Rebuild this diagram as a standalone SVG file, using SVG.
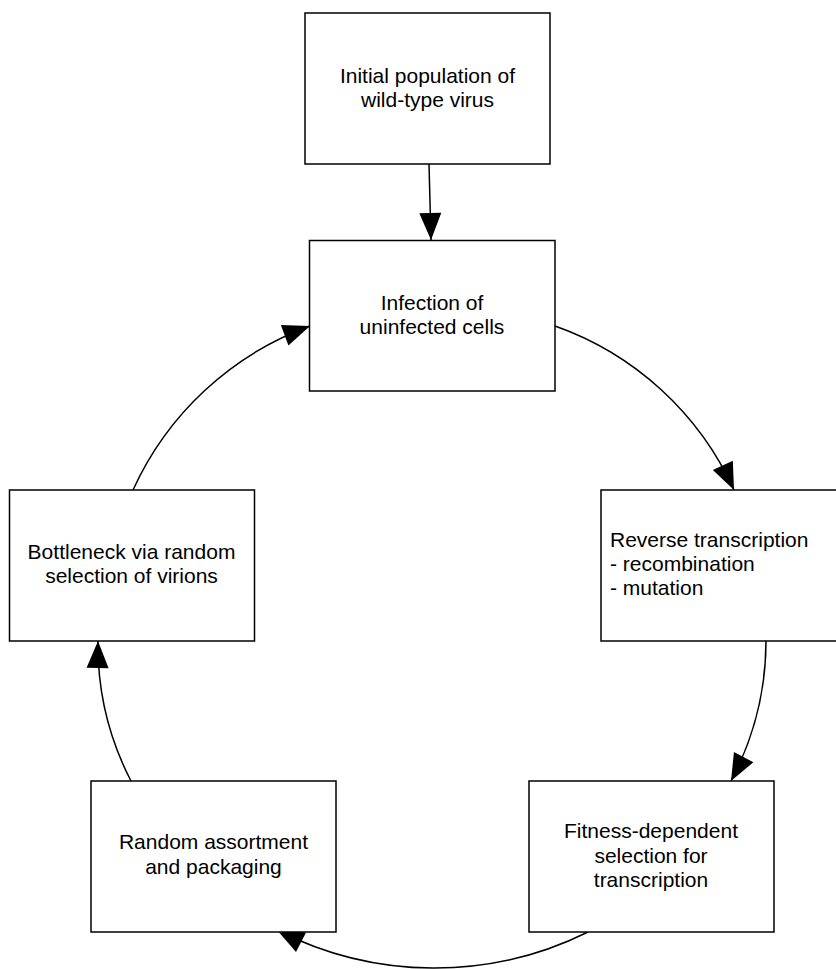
<svg xmlns="http://www.w3.org/2000/svg" width="836" height="969" viewBox="0 0 836 969">
<style>
.box{fill:#fff;stroke:#000;stroke-width:1.5}
.t{font-family:"Liberation Sans",Arial,sans-serif;font-size:21px;fill:#000}
.c{text-anchor:middle}
.e{fill:none;stroke:#000;stroke-width:1.5}
</style>
<defs>
<marker id="ah" markerUnits="userSpaceOnUse" markerWidth="28" markerHeight="22" refX="27" refY="11" orient="auto" overflow="visible">
<path d="M0,0 L27,11 L0,22 z" fill="#000"/>
</marker>
</defs>
<rect width="836" height="969" fill="#fff"/>
<g id="connectors">
<path class="e" d="M429,164 L431,240" marker-end="url(#ah)"/>
<path class="e" d="M555,326 A310,310 0 0 1 734,490" marker-end="url(#ah)"/>
<path class="e" d="M766,641 A300,300 0 0 1 731,781" marker-end="url(#ah)"/>
<path class="e" d="M588,932 A345,345 0 0 1 277,930" marker-end="url(#ah)"/>
<path class="e" d="M131,781 A295,295 0 0 1 98,641" marker-end="url(#ah)"/>
<path class="e" d="M133,490 A312,312 0 0 1 310,326" marker-end="url(#ah)"/>
</g>
<g id="initial">
<rect class="box" x="305" y="13" width="245" height="151"/>
<text class="t c" x="427.5" y="83">Initial population of</text>
<text class="t c" x="427.5" y="107">wild-type virus</text>
</g>
<g id="infection">
<rect class="box" x="309.5" y="240.5" width="245.5" height="150.5"/>
<text class="t c" x="432" y="310">Infection of</text>
<text class="t c" x="432" y="334">uninfected cells</text>
</g>
<g id="reverse">
<rect class="box" x="601" y="490" width="245" height="151"/>
<text class="t" x="610" y="547">Reverse transcription</text>
<text class="t" x="610" y="571">- recombination</text>
<text class="t" x="610" y="595">- mutation</text>
</g>
<g id="fitness">
<rect class="box" x="529" y="781" width="245" height="151"/>
<text class="t c" x="651" y="838">Fitness-dependent</text>
<text class="t c" x="651" y="862.5">selection for</text>
<text class="t c" x="651" y="887">transcription</text>
</g>
<g id="random">
<rect class="box" x="91" y="781" width="245" height="151"/>
<text class="t c" x="213.5" y="849">Random assortment</text>
<text class="t c" x="213.5" y="874">and packaging</text>
</g>
<g id="bottleneck">
<rect class="box" x="9.5" y="490" width="245" height="151"/>
<text class="t c" x="131.5" y="559">Bottleneck via random</text>
<text class="t c" x="131.5" y="583">selection of virions</text>
</g>
</svg>
